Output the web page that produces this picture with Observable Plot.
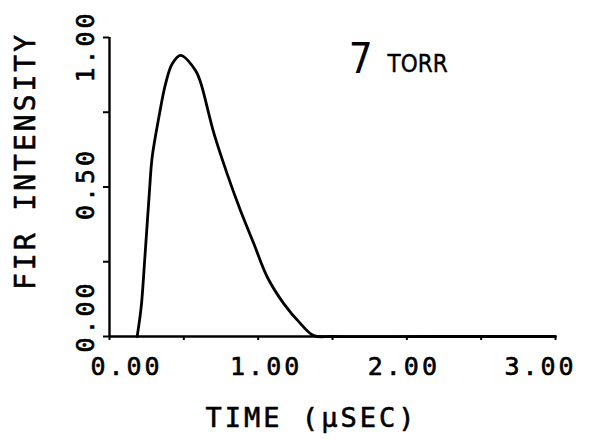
<!DOCTYPE html>
<html>
<head>
<meta charset="utf-8">
<script src="https://cdn.jsdelivr.net/npm/d3@7"></script>
<script src="https://cdn.jsdelivr.net/npm/@observablehq/plot@0.6"></script>
<style>
  html, body { margin: 0; padding: 0; background: #fff; }
  .spaced text { letter-spacing: 3px; }
</style>
</head>
<body>
<div id="chart"></div>
<script>
// Data
const time = [0.186, 0.213, 0.238, 0.269, 0.287, 0.332, 0.377, 0.422, 0.478, 0.578, 0.612, 0.702, 0.792, 0.881, 0.971, 1.061, 1.172, 1.285, 1.374, 1.50, 2.20, 3.00];
const intensity = [0.00, 0.098, 0.265, 0.488, 0.600, 0.733, 0.845, 0.912, 0.940, 0.890, 0.851, 0.680, 0.543, 0.421, 0.310, 0.199, 0.110, 0.043, 0.003, 0.00, 0.00, 0.00];
const xTicks = [0, 0.5, 1, 1.5, 2, 2.5, 3];
const xTickLabels = [0, 1, 2, 3];
const yTicks = [0, 0.25, 0.5, 0.75, 1];
const yTickLabels = [0, 0.5, 1];
const xLabel = "TIME (\u03BCSEC)";
const yLabel = "FIR INTENSITY";
const annotNumber = [{x: 1.61, y: 0.88, text: "7"}];
const annotUnit = [{x: 1.87, y: 0.883, text: "TORR"}];

const data = time.map((t, i) => ({t, v: intensity[i]}));
const fmt = d => d.toFixed(2);
const MONO = "DejaVu Sans Mono";
const SANS = "Liberation Sans Narrow, DejaVu Sans Condensed, Liberation Sans, sans-serif";
// label nudges that mimic the hand-placed labels of the original plot
const xNudge = {0: 17, 1: 8, 2: -3, 3: -15};
const yNudge = {0: -20, 0.5: -3, 1: 9};

const textStyle = {stroke: "black", strokeWidth: 0.6, fill: "black", className: "spaced"};

const chart = Plot.plot({
  width: 591,
  height: 441,
  marginLeft: 109,
  marginRight: 36,
  marginTop: 37,
  marginBottom: 105,
  x: {domain: [0, 3]},
  y: {domain: [0, 1]},
  style: {background: "white", color: "black"},
  marks: [
    Plot.ruleY([0], {stroke: "black", strokeWidth: 2.4}),
    Plot.ruleX([0], {stroke: "black", strokeWidth: 2.4}),
    Plot.axisX({ticks: xTicks, tickFormat: () => "", tickSize: 4, strokeWidth: 2, label: null}),
    Plot.axisY({ticks: yTicks, tickFormat: () => "", tickSize: 6, strokeWidth: 2, label: null}),
    ...xTickLabels.map(v => Plot.text([v], {x: d => d, y: 0, text: fmt, dx: xNudge[v], dy: 30, fontSize: 25, fontFamily: MONO, textAnchor: "middle", ...textStyle})),
    ...yTickLabels.map(v => Plot.text([v], {x: 0, y: d => d, text: fmt, dx: -24, dy: yNudge[v], rotate: -90, fontSize: 25, fontFamily: MONO, textAnchor: "middle", ...textStyle})),
    Plot.text([xLabel], {frameAnchor: "bottom", text: d => d, dy: 90, dx: -21, fontSize: 27, fontFamily: MONO, textAnchor: "middle", ...textStyle}),
    Plot.text([yLabel], {frameAnchor: "left", text: d => d, dx: -83, dy: -26, rotate: -90, fontSize: 28, fontFamily: MONO, textAnchor: "middle", ...textStyle}),
    Plot.line(data, {x: "t", y: "v", stroke: "black", strokeWidth: 2.8, curve: "catmull-rom"}),
    Plot.text(annotNumber, {x: "x", y: "y", text: "text", fontSize: 42, fontFamily: SANS, textAnchor: "start", lineAnchor: "bottom", fill: "black"}),
    Plot.text(annotUnit, {x: "x", y: "y", text: "text", fontSize: 24, fontFamily: SANS, textAnchor: "start", lineAnchor: "bottom", fill: "black", stroke: "black", strokeWidth: 0.4})
  ]
});
document.getElementById("chart").appendChild(chart);
</script>
</body>
</html>
